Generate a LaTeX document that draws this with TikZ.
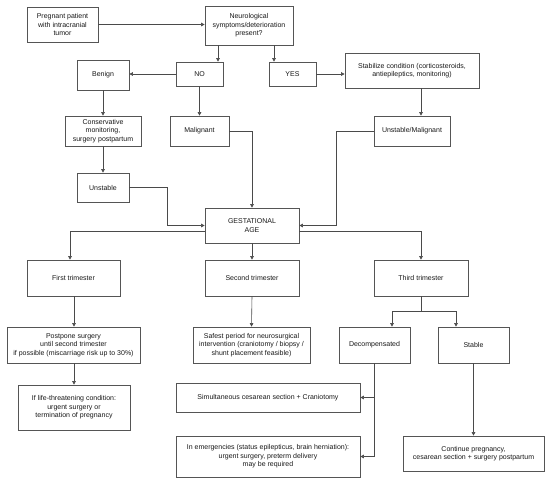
\documentclass[tikz,border=0pt]{standalone}
\usepackage{fontspec}
\setmainfont{Liberation Sans}
\usetikzlibrary{arrows.meta}
\definecolor{lc}{HTML}{4A4A4A}
\definecolor{bc}{HTML}{555555}
\begin{document}
\begin{tikzpicture}[x=1pt,y=-1pt,
  box/.style={draw=bc,line width=0.7pt,rectangle,inner sep=1pt,align=center,
    font=\fontsize{7}{8.5}\selectfont,text=black!90},
  arr/.style={draw=lc,line width=0.6pt,-{Triangle[length=3.6pt,width=3.6pt]}},
  ln/.style={draw=lc,line width=0.6pt}]
\useasboundingbox[fill=white] (0,0) rectangle (550,483);
% boxes
\node[box,minimum width=71pt,minimum height=35pt] (preg) at (62.5,24.5) {Pregnant patient\\with intracranial\\tumor};
\node[box,minimum width=88pt,minimum height=39pt] (neuro) at (249,25.5) {Neurological\\symptoms/deterioration\\present?};
\node[box,minimum width=47pt,minimum height=24pt] (no) at (199.5,74) {NO};
\node[box,minimum width=47pt,minimum height=24pt] (yes) at (292.5,74) {YES};
\node[box,minimum width=52pt,minimum height=30pt] (benign) at (103,75) {Benign};
\node[box,minimum width=76pt,minimum height=30pt] (cons) at (103,131) {Conservative\\monitoring,\\surgery postpartum};
\node[box,minimum width=59pt,minimum height=30pt] (malig) at (199.5,131) {Malignant};
\node[box,minimum width=134pt,minimum height=35pt] (stab) at (412,70.5) {Stabilize condition (corticosteroids,\\antiepileptics, monitoring)};
\node[box,minimum width=76pt,minimum height=30pt] (unmal) at (412,131) {Unstable/Malignant};
\node[box,minimum width=52pt,minimum height=29pt] (unst) at (103,187.5) {Unstable};
\node[box,minimum width=94pt,minimum height=35pt] (gest) at (252,225.5) {GESTATIONAL\\AGE};
\node[box,minimum width=93pt,minimum height=36pt] (first) at (73.5,278) {First trimester};
\node[box,minimum width=94pt,minimum height=36pt] (second) at (252,278) {Second trimester};
\node[box,minimum width=94pt,minimum height=36pt] (third) at (421,278) {Third trimester};
\node[box,minimum width=71pt,minimum height=36pt] (decomp) at (374.5,345) {Decompensated};
\node[box,minimum width=71pt,minimum height=36pt] (stable) at (473.5,345) {Stable};
\node[box,minimum width=133pt,minimum height=36pt] (post) at (73.5,345) {Postpone surgery\\until second trimester\\if possible (miscarriage risk up to 30\%)};
\node[box,minimum width=112pt,minimum height=45pt] (life) at (74,407.5) {If life-threatening condition:\\urgent surgery or\\termination of pregnancy};
\node[box,minimum width=117pt,minimum height=36pt] (safe) at (251.5,345) {Safest period for neurosurgical\\intervention (craniotomy / biopsy /\\shunt placement feasible)};
\node[box,minimum width=184pt,minimum height=29pt] (simul) at (268,397.5) {Simultaneous cesarean section + Craniotomy};
\node[box,minimum width=184pt,minimum height=41pt] (emerg) at (268,456.5) {In emergencies (status epilepticus, brain herniation):\\urgent surgery, preterm delivery\\may be required};
\node[box,minimum width=141pt,minimum height=35pt] (cont) at (473.5,453.5) {Continue pregnancy,\\cesarean section + surgery postpartum};
% helper x positions
\coordinate (x218) at (218,0);
\coordinate (x274) at (274,0);
\coordinate (x421) at (421,0);
\coordinate (x336) at (336,0);
\coordinate (x167) at (167,0);
\coordinate (x70) at (70,0);
\coordinate (x392) at (392,0);
\coordinate (x456) at (456,0);
\coordinate (x74) at (74,0);
\coordinate (x374) at (374,0);
\coordinate (split) at (421,311);
% connectors
\draw[arr] (preg.east) -- (preg.east -| neuro.west);
\draw[arr] (neuro.south -| x218) -- (no.north -| x218);
\draw[arr] (neuro.south -| x274) -- (yes.north -| x274);
\draw[arr] (no.west) -- (no.west -| benign.east);
\draw[arr] (yes.east) -- (yes.east -| stab.west);
\draw[arr] (benign.south) -- (cons.north);
\draw[arr] (no.south) -- (malig.north);
\draw[arr] (stab.south -| x421) -- (unmal.north -| x421);
\draw[arr] (cons.south) -- (unst.north);
\draw[arr] (malig.east) -| (gest.north);
\draw[arr] (unmal.west) -- (unmal.west -| x336) |- (gest.east);
\draw[arr] (unst.east) -- (unst.east -| x167) |- (gest.west);
\draw[arr] ([yshift=-5.5pt]gest.west) -| (first.north -| x70);
\draw[arr] (gest.south) -- (second.north);
\draw[arr] ([yshift=-5.5pt]gest.east) -| (third.north);
\draw[ln] (third.south) -- (split);
\draw[arr] (split) -| (decomp.north -| x392);
\draw[arr] (split) -| (stable.north -| x456);
\draw[arr] (first.south -| x74) -- (post.north -| x74);
\draw[arr] (post.south -| x74) -- (life.north -| x74);
\draw[arr] (second.south) -- (safe.north);
\draw[arr] (decomp.south -| x374) |- (simul.east);
\draw[arr] (decomp.south -| x374) |- (emerg.east);
\draw[arr] (stable.south) -- (cont.north);
\end{tikzpicture}
\end{document}
